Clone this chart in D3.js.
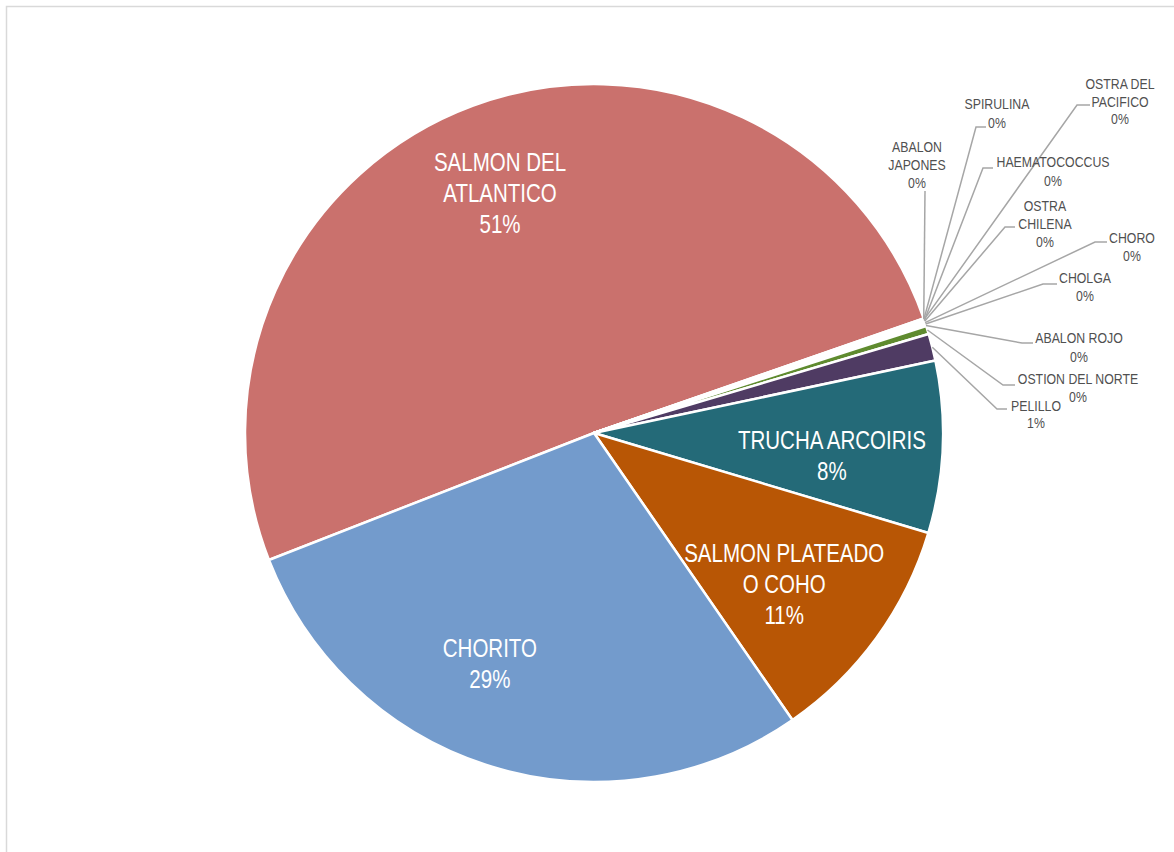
<!DOCTYPE html>
<html>
<head>
<meta charset="utf-8">
<script src="https://cdn.jsdelivr.net/npm/d3@7"></script>
<style>
  html, body { margin: 0; padding: 0; background: #ffffff; }
  svg { display: block; }
  text { font-family: "Liberation Sans", Arial, sans-serif; }
</style>
</head>
<body>
<svg id="chart" width="1174" height="852"></svg>
<script>
// Production share by species (percent)
const categories = [
  "SALMON DEL ATLANTICO", "ABALON JAPONES", "SPIRULINA", "OSTRA DEL PACIFICO",
  "HAEMATOCOCCUS", "OSTRA CHILENA", "CHORO", "CHOLGA", "ABALON ROJO",
  "OSTION DEL NORTE", "PELILLO", "TRUCHA ARCOIRIS", "SALMON PLATEADO O COHO", "CHORITO"
];
const values = [50.6, 0.03, 0.02, 0.03, 0.04, 0.05, 0.07, 0.07, 0.06, 0.38, 1.25, 7.95, 10.75, 28.7];
const colors = [
  "#ca716d", "#7a9fcf", "#c8843e", "#3a7a88", "#6a5380", "#86a84c", "#9db6d9",
  "#d9a070", "#5a8c96", "#5f8b2f", "#4f3b63", "#246a78", "#b85605", "#739bcc"
];
// Label text lines for each slice (the percentage is appended)
const labelLines = [
  ["SALMON DEL", "ATLANTICO"], ["ABALON", "JAPONES"], ["SPIRULINA"], ["OSTRA DEL", "PACIFICO"],
  ["HAEMATOCOCCUS"], ["OSTRA", "CHILENA"], ["CHORO"], ["CHOLGA"], ["ABALON ROJO"],
  ["OSTION DEL NORTE"], ["PELILLO"], ["TRUCHA ARCOIRIS"], ["SALMON PLATEADO", "O COHO"], ["CHORITO"]
];

// ---- layout ----
const cx = 594, cy = 433, R = 349;
const startDeg = 248.66;
const rad = d => d * Math.PI / 180;
const narrow = 0.82;   // horizontal condensation of the label face

// labels drawn inside the large slices: radius and angular shift from the slice middle
const insideLayout = {
  "SALMON DEL ATLANTICO": { r: 258, shift: -1.1 },
  "CHORITO": { r: 253, shift: 7.3 },
  "SALMON PLATEADO O COHO": { r: 243, shift: 2.5 },
  "TRUCHA ARCOIRIS": { r: 239, shift: 3.1 }
};
// labels placed outside, with their leader line: text centre x, first line centre y,
// line step, and the horizontal leader stub [x elbow, x end, y]
const outsideLayout = {
  "ABALON JAPONES":     { x: 917,  y: 147, step: 18, stub: [925, 925, 191] },
  "SPIRULINA":          { x: 997,  y: 104, step: 19, stub: [976, 986, 127] },
  "OSTRA DEL PACIFICO": { x: 1120, y: 84,  step: 17.5, stub: [1077, 1090, 105] },
  "HAEMATOCOCCUS":      { x: 1053, y: 162, step: 19, stub: [983, 993, 168] },
  "OSTRA CHILENA":      { x: 1045, y: 206, step: 18, stub: [1005, 1015, 227] },
  "CHORO":              { x: 1132, y: 238, step: 18, stub: [1095, 1107, 242] },
  "CHOLGA":             { x: 1085, y: 278, step: 18, stub: [1043, 1057, 284] },
  "ABALON ROJO":        { x: 1079, y: 338, step: 19, stub: [1022, 1033, 343] },
  "OSTION DEL NORTE":   { x: 1078, y: 379, step: 18, stub: [1003, 1015, 385] },
  "PELILLO":            { x: 1036, y: 406, step: 17, stub: [997, 1007, 409] }
};

const svg = d3.select("#chart");

// chart area frame
svg.append("rect")
  .attr("x", 6.5).attr("y", 6.5).attr("width", 1200).attr("height", 900)
  .attr("fill", "#ffffff").attr("stroke", "#d9d9d9").attr("stroke-width", 1.5);

const data = categories.map((c, i) => ({ name: c, value: values[i], color: colors[i], lines: labelLines[i] }));
const total = d3.sum(values);
const pct = d3.format(".0%");

const pie = d3.pie().sort(null).value(d => d.value)
  .startAngle(rad(startDeg)).endAngle(rad(startDeg) + 2 * Math.PI);
const arcs = pie(data);
const arc = d3.arc().innerRadius(0).outerRadius(R);

const g = svg.append("g").attr("transform", `translate(${cx},${cy})`);
g.selectAll("path.slice").data(arcs).join("path")
  .attr("class", "slice")
  .attr("d", arc)
  .attr("fill", d => d.data.color)
  .attr("stroke", "#ffffff")
  .attr("stroke-width", 2.5)
  .attr("stroke-linejoin", "round");

// condense a text element horizontally around its anchor
function condense(sel) {
  sel.each(function () {
    const len = this.getComputedTextLength();
    d3.select(this).attr("textLength", len * narrow).attr("lengthAdjust", "spacingAndGlyphs");
  });
}

// inside labels
arcs.filter(d => insideLayout[d.data.name]).forEach(d => {
  const L = insideLayout[d.data.name];
  const mid = (d.startAngle + d.endAngle) / 2 + rad(L.shift);
  const x = L.r * Math.sin(mid), y = -L.r * Math.cos(mid);
  const lines = d.data.lines.concat([pct(d.data.value / total)]);
  const step = 31;
  const t = g.append("g").attr("transform", `translate(${x},${y})`);
  lines.forEach((s, k) => {
    t.append("text")
      .attr("x", 0).attr("y", (k - (lines.length - 1) / 2) * step)
      .attr("dy", "0.36em")
      .attr("text-anchor", "middle")
      .attr("fill", "#ffffff")
      .attr("font-size", 25)
      .text(s)
      .call(condense);
  });
});

// outside labels with leader lines
const lead = svg.append("g");
arcs.filter(d => outsideLayout[d.data.name]).forEach(d => {
  const L = outsideLayout[d.data.name];
  const mid = (d.startAngle + d.endAngle) / 2;
  const px = cx + R * Math.sin(mid), py = cy - R * Math.cos(mid);
  const [xe, xs, ys] = L.stub;
  lead.append("path")
    .attr("d", `M${px},${py}L${xe},${ys}L${xs},${ys}`)
    .attr("fill", "none")
    .attr("stroke", "#a6a6a6")
    .attr("stroke-width", 1.5);
  const lines = d.data.lines.concat([pct(d.data.value / total)]);
  lines.forEach((s, k) => {
    lead.append("text")
      .attr("x", L.x).attr("y", L.y + k * L.step)
      .attr("dy", "0.36em")
      .attr("text-anchor", "middle")
      .attr("fill", "#505050")
      .attr("font-size", 15)
      .text(s)
      .call(condense);
  });
});
</script>
</body>
</html>
